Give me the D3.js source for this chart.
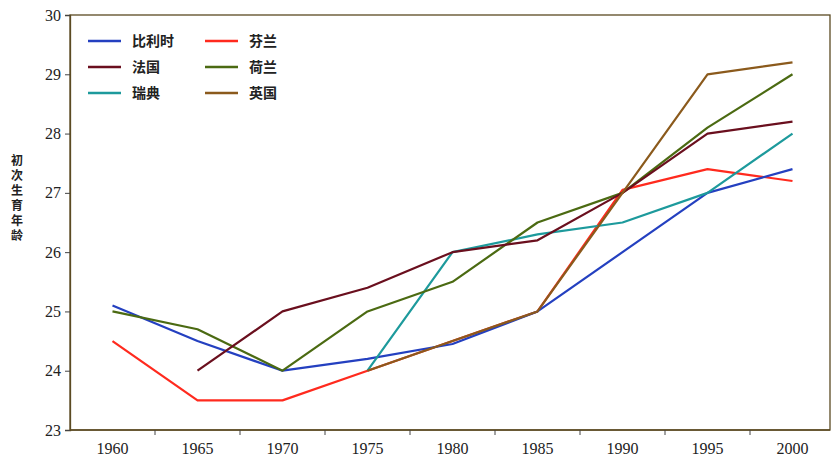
<!DOCTYPE html>
<html>
<head>
<meta charset="utf-8">
<script src="https://cdn.jsdelivr.net/npm/d3@7"></script>
<style>
  body { margin: 0; background: #fff; }
  svg { display: block; }
</style>
</head>
<body>
<div id="viz-container"></div>
<script>
// data
let years = ["1960", "1965", "1970", "1975", "1980", "1985", "1990", "1995", "2000"];
let countries = ["比利时", "芬兰", "法国", "荷兰", "瑞典", "英国"];
let colors = ["#2440c0", "#ff2a1e", "#6a0f1e", "#4b6a12", "#1d9a9c", "#8b5a1c"];

let belgium     = [25.1, 24.5, 24.0, 24.2, 24.45, 25.0, 26.0, 27.0, 27.4];
let finland     = [24.5, 23.5, 23.5, 24.0, 24.5, 25.0, 27.05, 27.4, 27.2];
let france      = [null, 24.0, 25.0, 25.4, 26.0, 26.2, 27.0, 28.0, 28.2];
let netherlands = [25.0, 24.7, 24.0, 25.0, 25.5, 26.5, 27.0, 28.1, 29.0];
let sweden      = [null, null, null, 24.0, 26.0, 26.3, 26.5, 27.0, 28.0];
let uk          = [null, null, null, 24.0, 24.5, 25.0, 27.0, 29.0, 29.2];

let yTicks = [23, 24, 25, 26, 27, 28, 29, 30];
let yTitle = "初次生育年龄";

let series = [belgium, finland, france, netherlands, sweden, uk];

let w = 834, h = 460;
let padL = 70, padR = 835, padT = 15, padB = 430, frameR = 830;

let viz = d3.select("#viz-container")
  .append("svg")
    .attr("id", "viz")
    .attr("width", w)
    .attr("height", h)
;

let x = d3.scaleBand().domain(years).range([padL, padR]);
let y = d3.scaleLinear().domain([23, 30]).range([padB, padT]);

// frame
viz.append("rect")
  .attr("x", padL)
  .attr("y", padT)
  .attr("width", frameR - padL)
  .attr("height", padB - padT)
  .attr("fill", "none")
  .attr("stroke", "#5b4a22")
  .attr("stroke-width", 1.3)
;

// y axis
let yAxis = viz.append("g")
  .attr("transform", "translate(" + padL + ",0)")
  .call(d3.axisLeft(y).tickValues(yTicks).tickFormat(d3.format("d")).tickSize(5).tickPadding(4));
yAxis.select(".domain").attr("stroke", "#5b4a22").attr("stroke-width", 1.3);
yAxis.selectAll(".tick line").attr("stroke", "#444");
yAxis.selectAll("text")
  .attr("font-family", "Liberation Serif, serif")
  .attr("font-size", 16)
  .attr("fill", "#222");

// x axis: ticks between categories, labels at centres
let bounds = years.slice(1).map(function(d){ return x(d); });
let xAxis = viz.append("g")
  .attr("transform", "translate(0," + padB + ")");
xAxis.append("line")
  .attr("x1", padL).attr("x2", frameR)
  .attr("stroke", "#5b4a22").attr("stroke-width", 1.3);
xAxis.selectAll(".tk").data(bounds).enter()
  .append("line")
    .attr("class", "tk")
    .attr("x1", function(d){ return d; })
    .attr("x2", function(d){ return d; })
    .attr("y1", 0).attr("y2", 5)
    .attr("stroke", "#444");
xAxis.selectAll(".lbl").data(years).enter()
  .append("text")
    .attr("class", "lbl")
    .attr("x", function(d){ return x(d) + x.bandwidth() / 2; })
    .attr("y", 24)
    .attr("text-anchor", "middle")
    .attr("font-family", "Liberation Serif, serif")
    .attr("font-size", 16)
    .attr("fill", "#222")
    .text(function(d){ return d; });

// y title, written vertically as one text
viz.append("text")
  .attr("x", 17)
  .attr("y", 154)
  .style("writing-mode", "vertical-rl")
  .style("letter-spacing", "3px")
  .attr("font-family", "Noto Sans CJK SC")
  .attr("font-weight", "bold")
  .attr("font-size", 12)
  .attr("fill", "#222")
  .text(yTitle);

// lines
let line = d3.line()
  .defined(function(d){ return d != null; })
  .x(function(d, i){ return x(years[i]) + x.bandwidth() / 2; })
  .y(function(d){ return y(d); });

// draw in an order that keeps the hidden red under the brown
let order = [1, 0, 4, 3, 2, 5];
viz.selectAll(".series").data(order).enter()
  .append("path")
    .attr("class", "series")
    .attr("d", function(k){ return line(series[k]); })
    .attr("fill", "none")
    .attr("stroke", function(k){ return colors[k]; })
    .attr("stroke-width", 2.2)
    .attr("stroke-linejoin", "round");

// legend
let legend = viz.selectAll(".leg").data(countries).enter()
  .append("g")
    .attr("class", "leg")
    .attr("transform", function(d, i){
      let cx = (i % 2 == 0) ? 88 : 205;
      let cy = 41 + Math.floor(i / 2) * 26;
      return "translate(" + cx + "," + cy + ")";
    });
legend.append("line")
  .attr("x1", 0).attr("x2", 33)
  .attr("stroke", function(d, i){ return colors[i]; })
  .attr("stroke-width", 2.4);
legend.append("text")
  .attr("x", 44)
  .attr("y", 5)
  .attr("font-family", "Noto Sans CJK SC")
  .attr("font-weight", "bold")
  .attr("font-size", 14)
  .attr("fill", "#222")
  .text(function(d){ return d; });
</script>
</body>
</html>
